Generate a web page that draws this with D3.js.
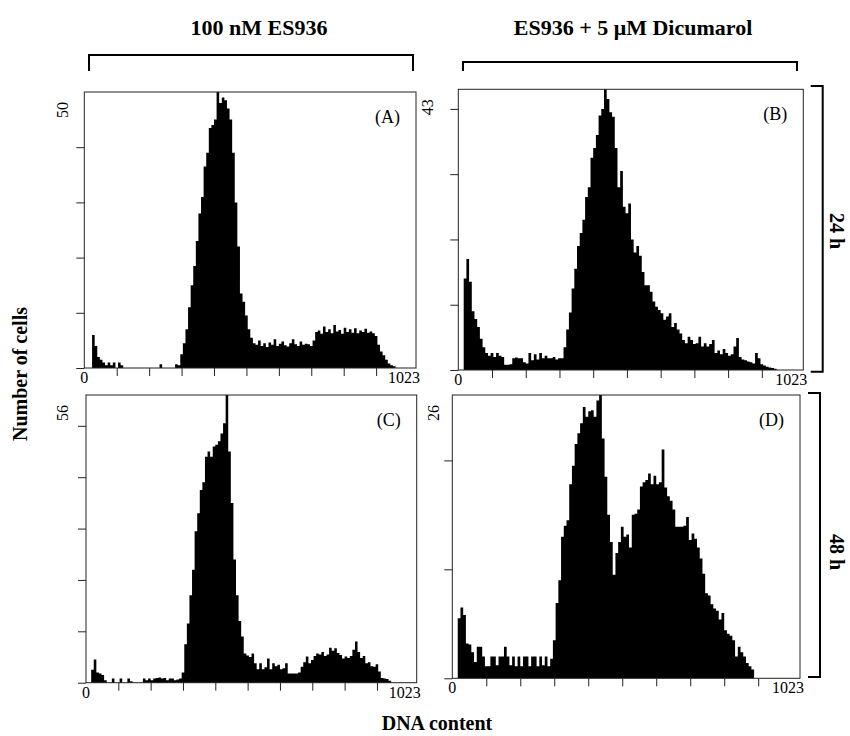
<!DOCTYPE html>
<html lang="en">
<head>
  <meta charset="UTF-8" />
  <title>DNA content histograms</title>
  <script src="https://cdn.jsdelivr.net/npm/d3@7"></script>
  <style>
    body { margin: 0; background: #fff; }
    text { font-family: "Liberation Serif", "DejaVu Serif", serif; fill: #000; }
    .bold { font-weight: bold; }
  </style>
</head>
<body>
<div id="chart"></div>
<script>
// channel bins: 8 channels per bin, 0..1023
var binWidth = 8;
var channelMax = 1023;
var xTicks = [100, 200, 300, 400, 500, 600, 700, 800, 900];

var colTitles = ["100 nM ES936", "ES936 + 5 \u03bcM Dicumarol"];
var rowTitles = ["24 h", "48 h"];
var panelNames = ["(A)", "(B)", "(C)", "(D)"];
var yMax = [50, 43, 56, 26];

// counts per bin
var countsA = [0,0,0,6,4,2,1.5,1,0.5,1,0.5,1,0,1,0.5,0,
  0,0,0,0,0,0,0,0,0,0,0,0,0,0.7,0,0,
  0,0,0,0.7,0.5,2.5,4.5,7,11,15,18.5,23,28,31,36.5,39,
  43.5,44,45,50,48,49,48.5,47,45,39,30,22,13.5,12,9.5,7,
  5.5,4.5,4.2,5,4,4.5,3.8,4.6,4.2,5.2,4,4.4,4.8,4.1,3.9,4.5,
  5.2,4.3,4,4.8,4.2,4.4,4.3,4,5,6.5,6.8,6.2,7.5,6.5,7,6.3,
  7.8,6.6,6.9,6.2,7.3,6.5,7,6.4,7.2,6.3,6.8,6.5,7.1,6.4,6.6,6.3,
  5.8,4.2,3,2.3,1.5,0.8,0.5,0.3,0,0,0,0,0,0,0,0];

var countsB = [0,0,14,17,13.5,9,7.8,6.6,4.8,3.5,2.6,2.2,2.6,2,2.6,2.2,
  2,0.8,0.8,0.9,1.8,1.9,1.8,1.8,1.2,1,2.6,1.5,2.4,1.6,2.6,1.8,
  2.2,1.8,1.8,2,1.6,1.8,1.8,3.5,6.2,8.8,12.5,15.5,19,21,23,26.5,
  28,32.5,34,36,39,40,43,41.5,39.5,38.8,34,28,30.5,25,24,25.5,
  20,18,19,17.5,15,13,13,12,10.5,9.7,9.2,8.7,7.7,8.2,8.7,6.6,
  7.2,6.2,5.6,4.6,4.1,5.1,4.6,4,4.1,5.1,3.6,4.1,3.6,4,4.6,2.6,
  3,2.4,3.2,2.6,2.2,2.4,3.6,4.9,2,1.6,1.5,1.3,1.2,1,2.6,1.8,
  0.9,0.7,0.5,0.4,0.3,0.2,0,0,0,0,0,0,0,0,0,0];

var countsC = [0,0,2.5,4.5,2,1.8,1.5,0.5,0,0,0.8,0,0,0.8,0,0,
  0.8,0.3,0,0,0,0,0.8,0.5,0.8,0.5,0.8,0.9,1,0.8,0.9,0.5,
  0.8,0.8,0.5,0.6,0.8,2,7.5,11.5,17,22,29.5,33,37.5,39,44,45,
  44,46,46.3,47,48.5,50.5,56,45,35,24,17,12,9,5.7,5.3,5,
  5.7,3.8,2.6,3.8,2.6,3,4.7,2.6,3.8,3.2,3.5,2.6,2.8,3.8,1.8,1.8,
  1.8,1.8,2,3.1,4,5.1,3.8,4.4,5.2,5.7,5.5,6,5.2,5.5,6.8,6.2,
  6.7,5.8,5.4,4.7,5.1,4.8,5.2,6.4,8,6,4.8,5.2,3.8,4,3.2,3.1,
  3.6,2.2,0.9,0.8,0.7,0.4,0,0,0,0,0,0,0,0,0,0];

var countsD = [0,0,5.5,6.5,5.8,3.2,3.1,2.4,1.5,2.9,2.9,2,1.1,1.1,2,2,
  1.2,2,2,2.9,2,1.2,2,1.1,2,1.1,2,2,1.1,2,2,1.1,
  2,1.2,2,1.1,1.8,3.5,6.9,9,13,14,14.5,17.8,19.5,21.5,22.5,23.4,
  24.9,24,24.5,24.6,24,25.5,26,22,18.5,15,12.5,9.5,11.5,12.5,13.9,13,
  13.2,12,15,15.1,15.5,17.6,18,18.2,18.8,17.8,18.6,17.8,18,21,17.5,16.7,
  16.3,15.5,13.9,13.9,13.9,14,14.8,12.7,13.3,12.8,12,11,9.6,7.8,7.6,6.8,
  6.4,6.2,5.4,6,4.4,4.1,3.9,3.5,2,2.9,2.4,2,1.4,1.1,0.8,0,
  0,0,0,0,0,0,0,0,0,0,0,0,0,0,0,0];

var series = [countsA, countsB, countsC, countsD];

// frame boxes of the four panels (left, right, top, bottom) and label offsets
var frames = [
  {l: 84.3, r: 416, t: 92, b: 368, maxDx: -21},
  {l: 458.3, r: 803.3, t: 89.3, b: 370, maxDx: -30},
  {l: 86, r: 416.7, t: 395, b: 682.7, maxDx: -23},
  {l: 452.3, r: 800, t: 395, b: 678.3, maxDx: -18}
];

var svg = d3.select("#chart").append("svg")
  .attr("width", 850)
  .attr("height", 736);

frames.forEach(function(f, k) {
  var data = series[k];
  var x = d3.scaleLinear().domain([0, channelMax]).range([f.l, f.r]);
  var y = d3.scaleLinear().domain([0, yMax[k]]).range([f.b, f.t]);

  var pts = data.map(function(v, i) { return [i * binWidth, v]; });
  pts.push([data.length * binWidth - 1, 0]);

  var area = d3.area()
    .x(function(d) { return x(d[0]); })
    .y0(y(0))
    .y1(function(d) { return y(Math.min(d[1], yMax[k])); })
    .curve(d3.curveStepAfter);

  svg.append("path")
    .datum(pts)
    .attr("d", area)
    .attr("fill", "#000");

  // frame
  svg.append("rect")
    .attr("x", f.l).attr("y", f.t)
    .attr("width", f.r - f.l).attr("height", f.b - f.t)
    .attr("fill", "none")
    .attr("stroke", "#222")
    .attr("stroke-width", 1);

  // y ticks every 10 counts
  var yTicks = d3.range(0, yMax[k], 10);
  var yAxis = svg.append("g")
    .attr("transform", "translate(" + f.l + ",0)")
    .call(d3.axisLeft(y).tickValues(yTicks).tickSize(8).tickSizeOuter(0).tickFormat(""));
  yAxis.select(".domain").remove();

  // x ticks every 100 channels
  var xAxis = svg.append("g")
    .attr("transform", "translate(0," + f.b + ")")
    .call(d3.axisBottom(x).tickValues(xTicks).tickSize(8).tickSizeOuter(0).tickFormat(""));
  xAxis.select(".domain").remove();
  svg.selectAll(".tick line").attr("stroke", "#222");

  svg.append("text")
    .attr("x", x(0)).attr("y", f.b + 15)
    .attr("text-anchor", "middle")
    .attr("font-size", "16px")
    .text("0");
  svg.append("text")
    .attr("x", x(channelMax) + 4).attr("y", f.b + 15)
    .attr("text-anchor", "end")
    .attr("font-size", "16px")
    .text(channelMax);

  // max count label, rotated
  svg.append("text")
    .attr("transform", "translate(" + (f.l + f.maxDx + 5) + "," + (f.t + 18) + ") rotate(-90)")
    .attr("text-anchor", "middle")
    .attr("font-size", "16px")
    .text(yMax[k]);

  // panel letter
  svg.append("text")
    .attr("x", f.r - 16).attr("y", f.t + 31)
    .attr("text-anchor", "end")
    .attr("font-size", "18px")
    .text(panelNames[k]);
});

// column headers with brackets
var colBrackets = [
  {l: 89, r: 413, y: 55, cx: 259},
  {l: 463, r: 797, y: 62, cx: 633}
];
colBrackets.forEach(function(c, i) {
  svg.append("text")
    .attr("class", "bold")
    .attr("x", c.cx).attr("y", 35)
    .attr("text-anchor", "middle")
    .attr("font-size", "22px")
    .text(colTitles[i]);
  svg.append("path")
    .attr("d", "M" + c.l + ",71V" + c.y + "H" + c.r + "V71")
    .attr("fill", "none")
    .attr("stroke", "#000")
    .attr("stroke-width", 2);
});

// row headers with brackets
var rowBrackets = [
  {t: 86, b: 371.7, x: 822.7, cy: 231},
  {t: 393, b: 677, x: 820, cy: 552}
];
rowBrackets.forEach(function(r, i) {
  svg.append("path")
    .attr("d", "M" + (r.x - 12) + "," + r.t + "H" + r.x + "V" + r.b + "H" + (r.x - 12))
    .attr("fill", "none")
    .attr("stroke", "#000")
    .attr("stroke-width", 2);
  svg.append("text")
    .attr("class", "bold")
    .attr("transform", "translate(830," + r.cy + ") rotate(90)")
    .attr("text-anchor", "middle")
    .attr("font-size", "20px")
    .text(rowTitles[i]);
});

// axis titles
svg.append("text")
  .attr("class", "bold")
  .attr("transform", "translate(27,374) rotate(-90)")
  .attr("text-anchor", "middle")
  .attr("font-size", "20px")
  .text("Number of cells");

svg.append("text")
  .attr("class", "bold")
  .attr("x", 437).attr("y", 730)
  .attr("text-anchor", "middle")
  .attr("font-size", "20px")
  .text("DNA content");
</script>
</body>
</html>
